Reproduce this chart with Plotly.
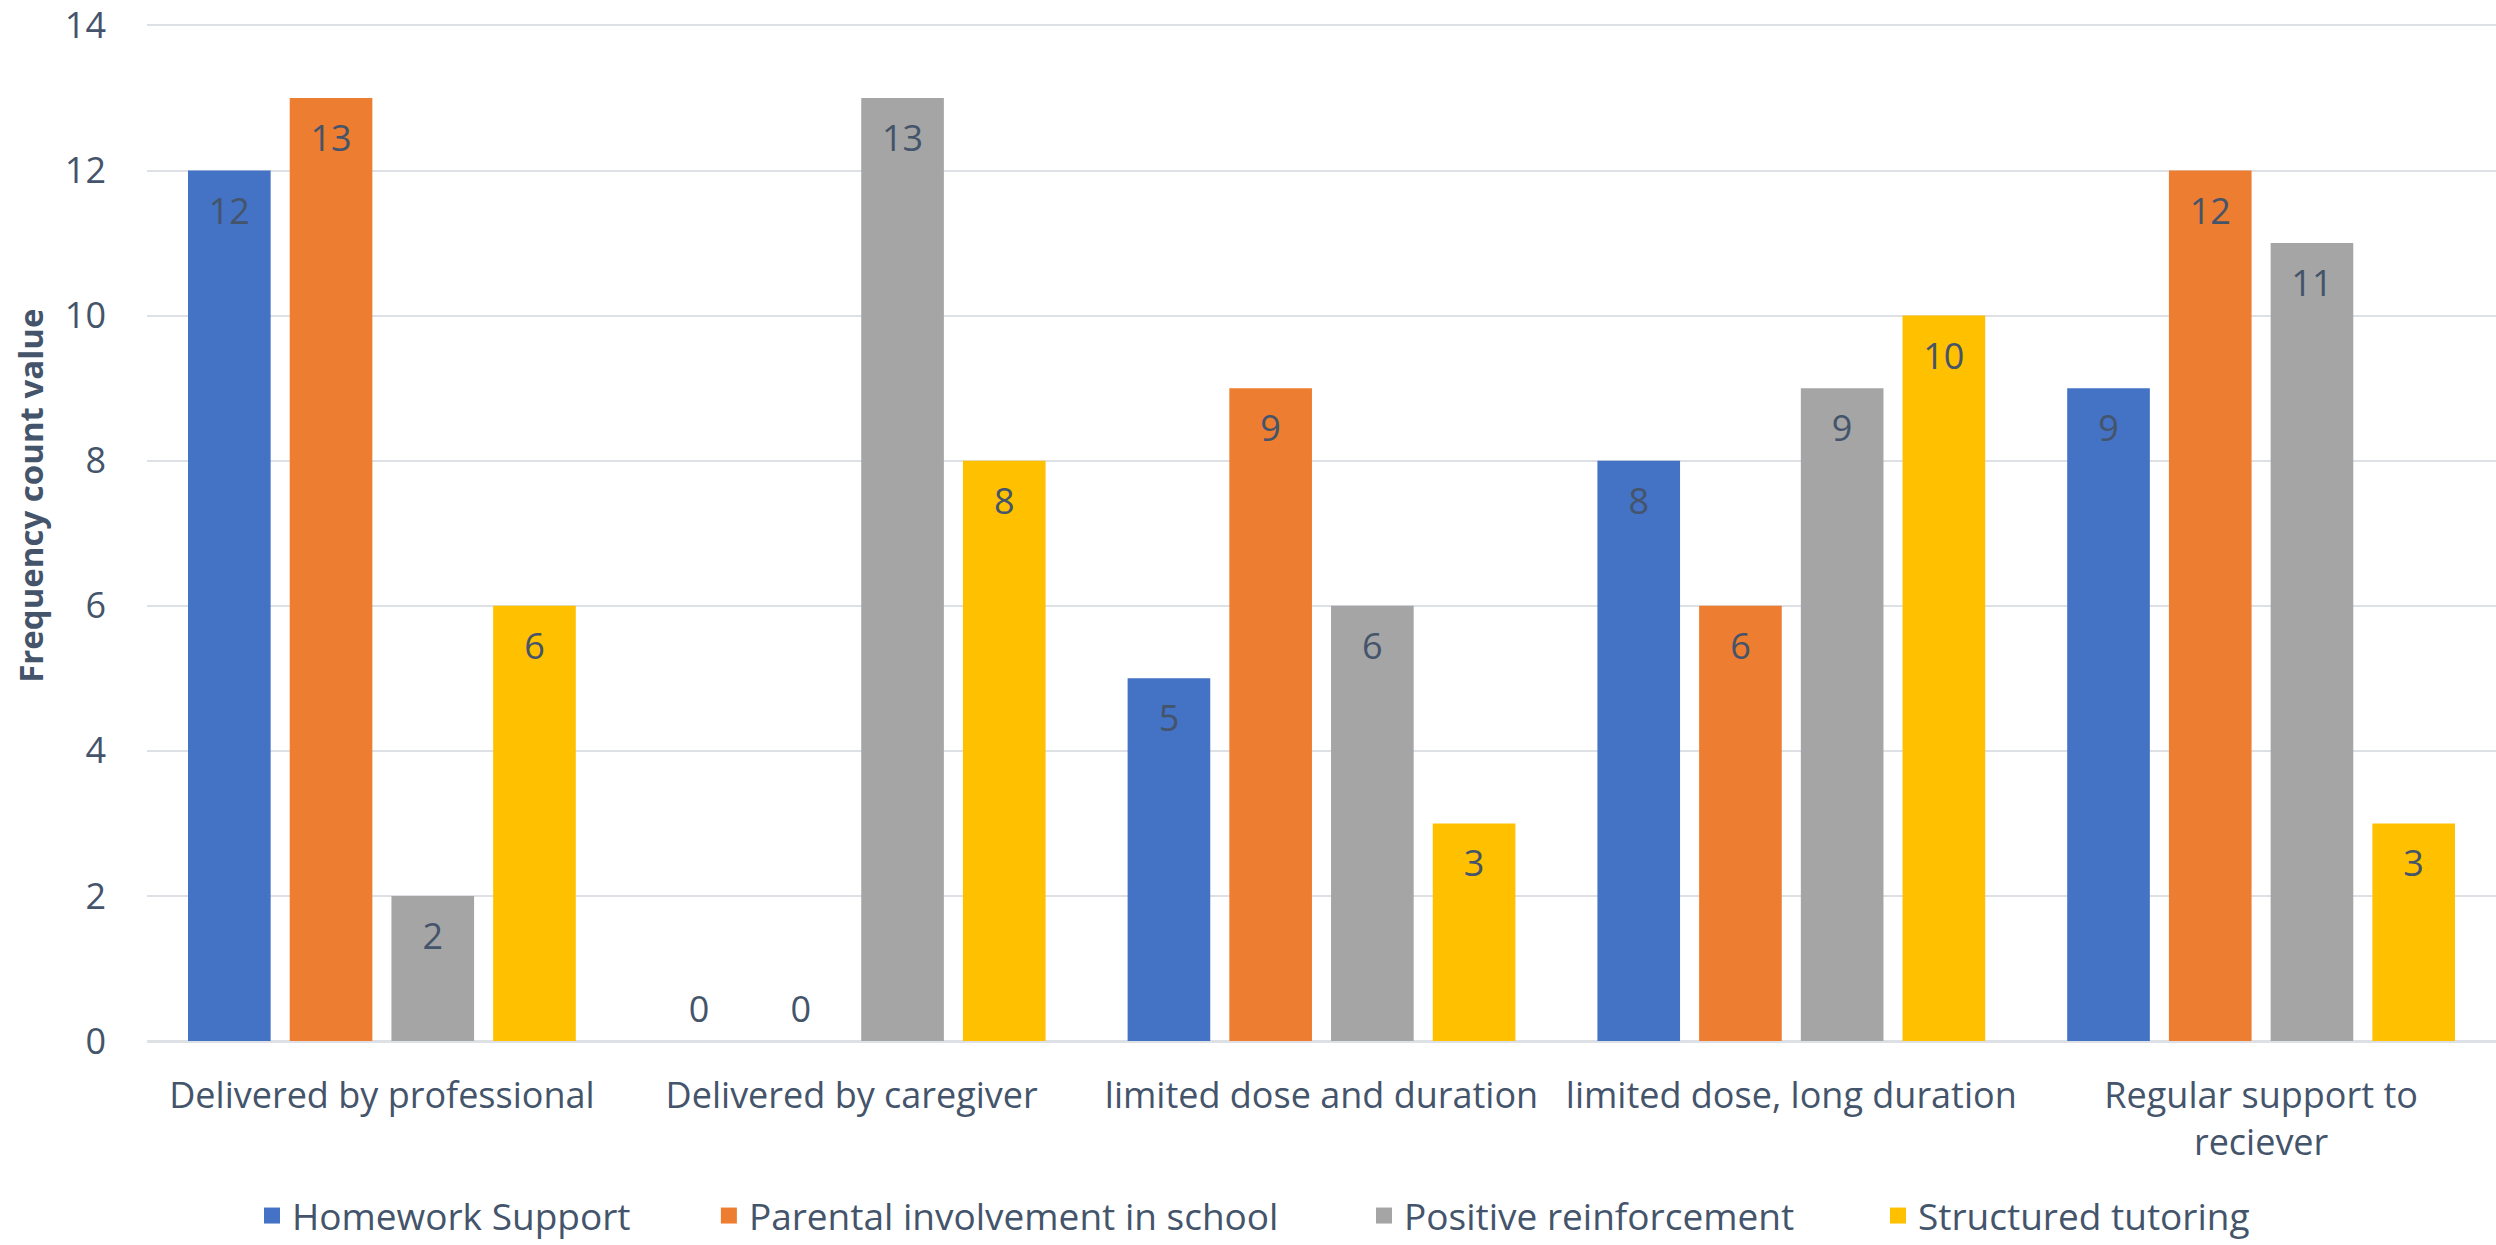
import plotly.graph_objects as go

categories = ["Delivered by professional", "Delivered by caregiver",
              "limited dose and duration", "limited dose, long duration",
              "Regular support to<br>reciever"]
series_names = ["Homework Support", "Parental involvement in school",
                "Positive reinforcement", "Structured tutoring"]
homework = [12, 0, 5, 8, 9]
parental = [13, 0, 9, 6, 12]
positive = [2, 13, 6, 9, 11]
tutoring = [6, 8, 3, 10, 3]
colors = ["#4472C4", "#ED7D31", "#A5A5A5", "#FFC000"]
y_ticks = [0, 2, 4, 6, 8, 10, 12, 14]
y_title = "Frequency count value"

TEXT = "#44546A"
FONT = "Open Sans, sans-serif"
FS = 36

legend_ids = ["legend", "legend2", "legend3", "legend4"]
legend_x = [0.0447, 0.2392, 0.5181, 0.7369]

fig = go.Figure()
all_vals = [homework, parental, positive, tutoring]
for i, (name, vals, col) in enumerate(zip(series_names, all_vals, colors)):
    fig.add_trace(go.Bar(
        x=categories, y=vals, name=name,
        marker=dict(color=col, line=dict(width=0)),
        offsetgroup=str(i), alignmentgroup="g",
        legendgroup=name, showlegend=False,
    ))
for i, (name, vals) in enumerate(zip(series_names, all_vals)):
    fig.add_trace(go.Scatter(
        x=categories, y=vals, mode="markers+text",
        text=[str(v) for v in vals],
        textposition=["top center" if v == 0 else "bottom center" for v in vals],
        textfont=dict(color=TEXT, size=FS, family=FONT),
        marker=dict(size=[14 if v == 0 else 40 for v in vals], opacity=0),
        offsetgroup=str(i), alignmentgroup="g",
        showlegend=False, hoverinfo="skip", cliponaxis=False,
    ))
# legend entries (no data drawn)
for i, (name, col) in enumerate(zip(series_names, colors)):
    fig.add_trace(go.Scatter(
        x=[None], y=[None], mode="markers", name=name,
        marker=dict(symbol="square", size=16, color=col),
        offsetgroup=str(i), alignmentgroup="g",
        legendgroup=name, legend=legend_ids[i], showlegend=True,
    ))

legend_common = dict(orientation="h", xanchor="left", yref="container",
                     y=0.0233, yanchor="middle", itemsizing="trace",
                     font=dict(size=37, color=TEXT, family=FONT),
                     bgcolor="rgba(0,0,0,0)", borderwidth=0)
layout_legends = {lid: dict(legend_common, x=lx) for lid, lx in zip(legend_ids, legend_x)}

fig.update_layout(
    width=2496, height=1245,
    margin=dict(l=147, r=0, t=21, b=204),
    paper_bgcolor="white", plot_bgcolor="white",
    barmode="group", bargap=0.134, bargroupgap=0.1875,
    scattermode="group", scattergap=0.134,
    font=dict(family=FONT, color=TEXT, size=FS),
    annotations=[dict(text="<b>" + y_title + "</b>", textangle=-90,
                      xref="paper", yref="paper", x=-0.0494, y=0.536,
                      xanchor="center", yanchor="middle", showarrow=False,
                      font=dict(size=33, color=TEXT, family=FONT))],
    **layout_legends,
)
fig.update_xaxes(showgrid=False, showline=False, zeroline=False,
                 tickfont=dict(size=FS, color=TEXT, family=FONT),
                 ticks="", ticklabelstandoff=30)
fig.update_yaxes(range=[0, 14.02], tickvals=y_ticks, showgrid=True, gridcolor="#DDE1E6",
                 gridwidth=2, zeroline=True, zerolinecolor="#DDE1E6", zerolinewidth=3,
                 showline=False, ticks="", ticklabelstandoff=40,
                 ticklabeloverflow="allow",
                 tickfont=dict(size=FS, color=TEXT, family=FONT))

fig.write_html("out.html")
